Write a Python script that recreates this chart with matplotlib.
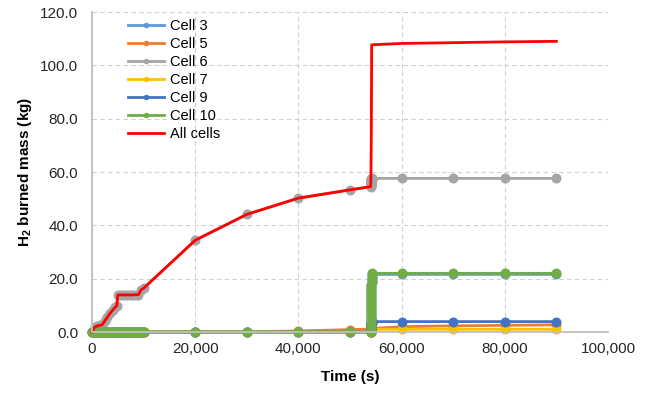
import numpy as np
import matplotlib
matplotlib.use('Agg')
import matplotlib.pyplot as plt
from matplotlib.ticker import FuncFormatter

plt.rcParams['font.family'] = ['Liberation Sans', 'DejaVu Sans']

# time points (s): dense early output, sparse later, dense again during the burn near 54,000 s
time = [0, 500, 1000, 1500, 2000, 2500, 3000, 3500, 4000, 4500, 4800,
        5000, 5500, 6000, 6500, 7000, 7500, 8000, 8500, 9000, 9500, 10000,
        20000, 30000, 40000, 50000, 54000,
        54010, 54020, 54030, 54040, 54050, 54060, 54070, 54080, 54090, 54100,
        54110, 54120, 54130, 54140, 54150, 54160, 54170, 54180, 54190, 54200,
        60000, 70000, 80000, 90000]

cell3 = [0]*27 + [1.0, 2.1, 3.2, 4.3, 5.4, 6.5, 7.6, 8.7, 9.8, 10.9,
                  12.0, 13.1, 14.2, 15.3, 16.4, 17.5, 18.6, 19.7, 20.8, 21.6,
                  21.6, 21.6, 21.6, 21.6]
cell5 = [0]*22 + [0.0, 0.1, 0.4, 0.9, 1.1,
                  1.1, 1.1, 1.1, 1.1, 1.1, 1.1, 1.1, 1.1, 1.2, 1.2,
                  1.2, 1.2, 1.2, 1.2, 1.2, 1.3, 1.3, 1.3, 1.3, 1.3,
                  2.0, 2.3, 2.5, 2.7]
cell6 = [0.0, 1.8, 2.3, 2.5, 2.7, 4.2, 5.6, 7.0, 8.2, 9.3, 9.8,
         13.9, 13.9, 13.9, 13.9, 13.9, 13.9, 13.9, 14.0, 14.0, 15.8, 16.4,
         34.4, 44.1, 50.2, 53.3, 54.5,
         54.7, 54.9, 55.1, 55.3, 55.5, 55.7, 55.9, 56.1, 56.3, 56.5,
         56.7, 56.9, 57.0, 57.1, 57.2, 57.3, 57.4, 57.5, 57.5, 57.6,
         57.6, 57.6, 57.6, 57.6]
cell7 = [0]*27 + [0.05, 0.1, 0.15, 0.2, 0.25, 0.3, 0.35, 0.4, 0.45, 0.5,
                  0.55, 0.6, 0.65, 0.7, 0.75, 0.8, 0.85, 0.9, 0.95, 1.0,
                  1.0, 1.0, 1.0, 1.0]
cell9 = [0]*27 + [0.2, 0.4, 0.6, 0.8, 1.0, 1.2, 1.4, 1.6, 1.8, 2.0,
                  2.2, 2.4, 2.6, 2.8, 3.0, 3.2, 3.4, 3.6, 3.8, 3.9,
                  3.9, 3.9, 3.9, 3.9]
cell10 = [0]*27 + [1.1, 2.2, 3.3, 4.4, 5.5, 6.6, 7.7, 8.8, 9.9, 11.0,
                   12.1, 13.2, 14.3, 15.4, 16.5, 17.6, 18.7, 19.8, 20.9, 22.0,
                   22.0, 22.0, 22.0, 22.0]
all_cells = [0.0, 1.8, 2.3, 2.5, 2.7, 4.2, 5.6, 7.0, 8.2, 9.3, 9.8,
             13.9, 13.9, 13.9, 13.9, 13.9, 13.9, 13.9, 14.0, 14.0, 15.8, 16.4,
             34.4, 44.1, 50.2, 53.3, 54.5,
             55.0, 55.5, 56.0, 57.0, 58.0, 59.5, 61.0, 63.0, 65.0, 67.5,
             70.0, 73.0, 76.0, 80.0, 84.0, 88.0, 93.0, 98.0, 103.0, 107.7,
             108.2, 108.5, 108.8, 109.0]

series = [('Cell 3', cell3, '#5B9BD5'),
          ('Cell 5', cell5, '#ED7D31'),
          ('Cell 6', cell6, '#A5A5A5'),
          ('Cell 7', cell7, '#FFC000'),
          ('Cell 9', cell9, '#4472C4'),
          ('Cell 10', cell10, '#70AD47')]

fig = plt.figure(figsize=(6.46, 3.95), dpi=100)
ax = fig.add_axes([92/646, 1-332/395, (608-92)/646, (332-12)/395])

for name, vals, col in series:
    ax.plot(time, vals, color=col, lw=2.0, marker='o', ms=7.2, mew=0,
            label=name, clip_on=False)
ax.plot(time, all_cells, color='#FF0000', lw=2.0, label='All cells', clip_on=False)

ax.set_xlim(0, 100000)
ax.set_ylim(0, 120)
ax.set_xticks(np.arange(0, 100001, 20000))
ax.set_yticks(np.arange(0, 121, 20))
ax.xaxis.set_major_formatter(FuncFormatter(lambda v, p: '{:,.0f}'.format(v)))
ax.yaxis.set_major_formatter(FuncFormatter(lambda v, p: '{:.1f}'.format(v)))
ax.tick_params(axis='both', length=0, labelsize=11, colors='#262626')
ax.tick_params(axis='x', pad=7)
ax.tick_params(axis='y', pad=10)

ax.grid(True, color='#D0D0D0', ls=(0, (4, 3)), lw=0.8)
ax.set_axisbelow(True)
for s in ['top', 'right']:
    ax.spines[s].set_visible(False)
for s in ['left', 'bottom']:
    ax.spines[s].set_color('#BFBFBF')
    ax.spines[s].set_linewidth(1.3)

ax.set_xlabel('Time (s)', fontsize=11, fontweight='bold', labelpad=10)
ax.set_ylabel('H$_\\mathregular{2}$ burned mass (kg)', fontsize=11, fontweight='bold', labelpad=4)

fig.legend(loc='upper left', bbox_to_anchor=(128/646, 1-19/395), frameon=False,
           fontsize=10.5, borderpad=0, borderaxespad=0, labelspacing=0.27,
           handlelength=2.5, handletextpad=0.4, markerscale=0.55)

fig.savefig('out.png', dpi=100)
